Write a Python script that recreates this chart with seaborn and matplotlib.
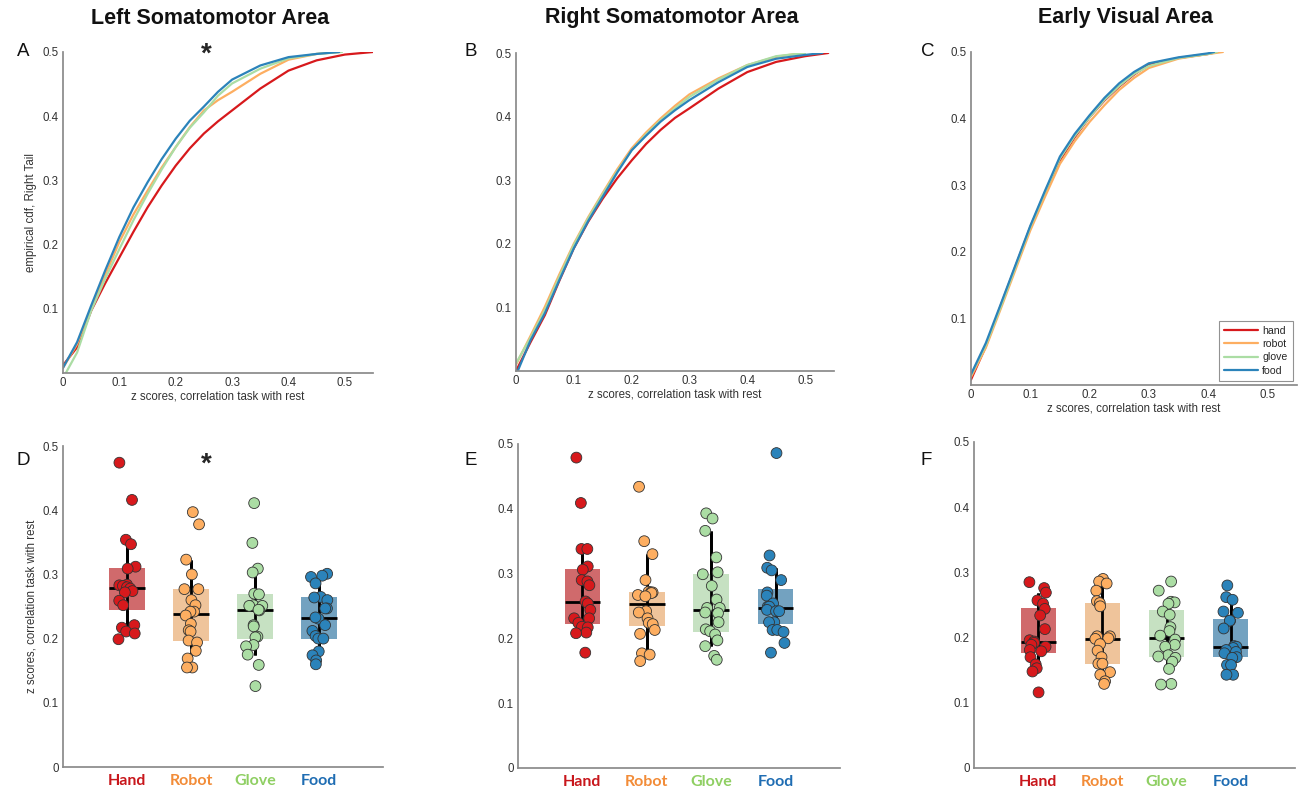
import numpy as np
import pandas as pd
import matplotlib
matplotlib.use("Agg")
import matplotlib.pyplot as plt
import seaborn as sns

# ---- condition names / colours ----
conds = ["hand", "robot", "glove", "food"]
cond_labels = ["Hand", "Robot", "Glove", "Food"]
line_colors = ["#d7191c", "#fdae61", "#abdda4", "#2b83ba"]
label_colors = ["#c8171c", "#f28c38", "#8fcf63", "#1f6db3"]

panel_titles = ["Left Somatomotor Area", "Right Somatomotor Area", "Early Visual Area"]

# ---- top row: empirical cdf (right tail) ----
xg = [0, .025, .05, .075, .1, .125, .15, .175, .2, .225, .25, .275, .3, .35, .4, .45]

left_hand_x = xg + [.5, .55]
left_hand_y = [.012, .040, .097, .140, .180, .220, .258, .292, .323, .350, .373, .392, .409, .443, .471, .487, .496, .5]
left_robot_x = xg + [.49]
left_robot_y = [.008, .045, .100, .153, .204, .247, .284, .320, .352, .383, .409, .425, .438, .466, .488, .497, .5]
left_glove_x = [.005] + xg[1:] + [.495]
left_glove_y = [.0, .032, .097, .147, .193, .238, .279, .317, .352, .382, .406, .432, .451, .474, .490, .497, .5]
left_food_x = xg + [.49]
left_food_y = [.008, .048, .105, .160, .212, .258, .297, .333, .365, .393, .415, .438, .457, .479, .492, .497, .5]

right_hand_x = xg + [.5, .54]
right_hand_y = [.0, .045, .088, .142, .193, .235, .271, .303, .331, .357, .379, .398, .413, .444, .470, .486, .495, .5]
right_robot_x = xg + [.495]
right_robot_y = [.010, .055, .101, .152, .200, .242, .280, .317, .350, .375, .397, .417, .435, .460, .481, .494, .5]
right_glove_x = xg + [.5]
right_glove_y = [.012, .052, .096, .148, .198, .240, .278, .314, .347, .372, .394, .413, .431, .458, .481, .495, .5]
right_food_x = [.003] + xg[1:] + [.5, .53]
right_food_y = [.0, .048, .091, .143, .193, .236, .274, .312, .347, .370, .392, .410, .426, .454, .478, .491, .497, .5]

vis_hand_x = xg[:-1] + [.415]
vis_hand_y = [.008, .058, .119, .178, .237, .288, .337, .372, .402, .427, .448, .466, .481, .491, .497, .5]
vis_robot_x = xg[:-1] + [.425]
vis_robot_y = [.012, .056, .114, .173, .232, .283, .332, .366, .395, .420, .443, .461, .476, .490, .497, .5]
vis_glove_x = xg[:-1] + [.415]
vis_glove_y = [.015, .060, .117, .177, .237, .290, .340, .374, .402, .428, .449, .467, .479, .491, .497, .5]
vis_food_x = xg[:-1] + [.41]
vis_food_y = [.016, .063, .121, .180, .239, .292, .343, .377, .405, .431, .453, .470, .483, .492, .498, .5]

# ---- bottom row: per-subject z scores ----
left_hand = [0.474, 0.416, 0.354, 0.347, 0.312, 0.309, 0.284, 0.283, 0.282, 0.280, 0.278, 0.274,
             0.272, 0.259, 0.252, 0.221, 0.217, 0.211, 0.208, 0.199]
left_robot = [0.397, 0.378, 0.323, 0.300, 0.277, 0.277, 0.260, 0.252, 0.242, 0.242, 0.236, 0.223,
              0.213, 0.211, 0.197, 0.194, 0.181, 0.169, 0.155, 0.155]
left_glove = [0.411, 0.349, 0.309, 0.303, 0.270, 0.269, 0.252, 0.251, 0.251, 0.244, 0.221, 0.219,
              0.203, 0.202, 0.190, 0.188, 0.175, 0.159, 0.126, 0.245]
left_food = [0.301, 0.298, 0.296, 0.286, 0.265, 0.264, 0.260, 0.247, 0.247, 0.231, 0.221, 0.212,
             0.204, 0.200, 0.200, 0.180, 0.174, 0.166, 0.160, 0.233]

right_hand = [0.479, 0.409, 0.338, 0.338, 0.311, 0.306, 0.290, 0.288, 0.282, 0.257, 0.254, 0.244,
              0.231, 0.231, 0.224, 0.218, 0.217, 0.209, 0.208, 0.178]
right_robot = [0.434, 0.350, 0.330, 0.290, 0.272, 0.271, 0.271, 0.270, 0.267, 0.265, 0.242, 0.240,
               0.231, 0.224, 0.222, 0.213, 0.207, 0.177, 0.175, 0.165]
right_glove = [0.393, 0.385, 0.366, 0.325, 0.302, 0.299, 0.281, 0.260, 0.247, 0.247, 0.240, 0.239,
               0.225, 0.214, 0.211, 0.206, 0.197, 0.188, 0.173, 0.167]
right_food = [0.486, 0.328, 0.309, 0.305, 0.290, 0.271, 0.266, 0.254, 0.249, 0.249, 0.244, 0.242,
              0.242, 0.225, 0.225, 0.213, 0.213, 0.210, 0.193, 0.178]

vis_hand = [0.285, 0.276, 0.269, 0.257, 0.252, 0.244, 0.234, 0.213, 0.196, 0.194, 0.192, 0.189,
            0.186, 0.181, 0.179, 0.170, 0.159, 0.153, 0.148, 0.116]
vis_robot = [0.290, 0.286, 0.283, 0.272, 0.256, 0.253, 0.248, 0.202, 0.202, 0.199, 0.198, 0.190,
             0.180, 0.170, 0.160, 0.160, 0.147, 0.143, 0.133, 0.129]
vis_glove = [0.286, 0.272, 0.255, 0.254, 0.252, 0.240, 0.235, 0.216, 0.210, 0.203, 0.197, 0.189,
             0.186, 0.173, 0.171, 0.169, 0.163, 0.152, 0.129, 0.128]
vis_food = [0.280, 0.262, 0.258, 0.240, 0.238, 0.226, 0.226, 0.214, 0.187, 0.186, 0.184, 0.181,
            0.178, 0.176, 0.170, 0.169, 0.158, 0.158, 0.143, 0.143]

cdf_panels = [
    [(left_hand_x, left_hand_y), (left_robot_x, left_robot_y), (left_glove_x, left_glove_y), (left_food_x, left_food_y)],
    [(right_hand_x, right_hand_y), (right_robot_x, right_robot_y), (right_glove_x, right_glove_y), (right_food_x, right_food_y)],
    [(vis_hand_x, vis_hand_y), (vis_robot_x, vis_robot_y), (vis_glove_x, vis_glove_y), (vis_food_x, vis_food_y)],
]
box_panels = [
    [left_hand, left_robot, left_glove, left_food],
    [right_hand, right_robot, right_glove, right_food],
    [vis_hand, vis_robot, vis_glove, vis_food],
]

sns.set_theme(style="white")
plt.rcParams["font.family"] = ["Liberation Sans", "DejaVu Sans"]
plt.rcParams["axes.edgecolor"] = "#8a8a8a"
plt.rcParams["xtick.color"] = "#8a8a8a"
plt.rcParams["ytick.color"] = "#8a8a8a"
plt.rcParams["xtick.labelcolor"] = "#333333"
plt.rcParams["ytick.labelcolor"] = "#333333"

W, H = 1304, 794
fig = plt.figure(figsize=(W / 100, H / 100), dpi=100)


def px_axes(l, t, r, b):
    return fig.add_axes([l / W, 1 - b / H, (r - l) / W, (b - t) / H])


top_boxes = [(63, 52, 373, 373), (516, 53, 834, 371), (971, 52, 1297, 385)]
bot_boxes = [(63, 446, 383, 767), (518, 444, 840, 768), (974, 442, 1295, 768)]
letters_top = ["A", "B", "C"]
letters_bot = ["D", "E", "F"]
letter_x = [17, 464, 921]
title_x = [210, 672, 1125]

np.random.seed(7)

for i in range(3):
    # ----- ECDF panel -----
    ax = px_axes(*top_boxes[i])
    rows = []
    for c, (xs, ys) in zip(conds, cdf_panels[i]):
        rows += [{"x": a, "y": b, "cond": c} for a, b in zip(xs, ys)]
    df = pd.DataFrame(rows)
    sns.lineplot(data=df, x="x", y="y", hue="cond", hue_order=conds, palette=line_colors,
                 sort=False, estimator=None, linewidth=1.6, ax=ax, legend=(i == 2))
    ax.set_xlim(0, 0.55)
    ax.set_ylim(0, 0.5)
    ax.set_xticks([0, .1, .2, .3, .4, .5])
    ax.set_xticklabels(["0", "0.1", "0.2", "0.3", "0.4", "0.5"])
    ax.set_yticks([.1, .2, .3, .4, .5])
    ax.set_yticklabels(["0.1", "0.2", "0.3", "0.4", "0.5"])
    ax.tick_params(direction="in", length=3, width=0.8, labelsize=8.3, pad=3)
    ax.set_xlabel("z scores, correlation task with rest", fontsize=8.3, color="#333333", labelpad=1)
    ax.set_ylabel("empirical cdf, Right Tail" if i == 0 else "", fontsize=8.3, color="#333333")
    sns.despine(ax=ax)
    if i == 2:
        leg = ax.legend(loc="lower right", fontsize=7.6, frameon=True, fancybox=False,
                        handlelength=3.2, borderpad=0.5, labelspacing=0.3, handletextpad=0.4,
                        borderaxespad=0.4)
        leg.get_frame().set_edgecolor("#777777")
        leg.get_frame().set_linewidth(0.8)
        for line in leg.get_lines():
            line.set_linewidth(1.6)

    fig.text(title_x[i] / W, 1 - 18 / H, panel_titles[i], ha="center", va="center",
             fontsize=15.5, fontweight="bold", color="#111111")
    fig.text(letter_x[i] / W, 1 - 52 / H, letters_top[i], ha="left", va="center",
             fontsize=13.5, color="#111111")

    # ----- box + points panel -----
    ax = px_axes(*bot_boxes[i])
    rows = []
    for c, vals in zip(cond_labels, box_panels[i]):
        rows += [{"cond": c, "z": v} for v in vals]
    bdf = pd.DataFrame(rows)
    sns.boxplot(data=bdf, x="cond", y="z", hue="cond", order=cond_labels, hue_order=cond_labels,
                palette=line_colors, width=0.55, whis=(10, 90), showfliers=False, showcaps=False,
                linecolor="black", linewidth=2, legend=False, ax=ax,
                medianprops=dict(color="black", linewidth=2),
                whiskerprops=dict(color="black", linewidth=2))
    for cont in ax.containers:
        for patch in cont.boxes:
            patch.set_alpha(0.72)
            patch.set_edgecolor("none")
            patch.set_zorder(1)
        w = cont.whiskers
        for lo, hi in zip(w[0::2], w[1::2]):
            xx = lo.get_xdata()[0]
            ax.plot([xx, xx], [lo.get_ydata()[1], hi.get_ydata()[1]], color="black",
                    linewidth=2, zorder=2, solid_capstyle="butt")
    sns.stripplot(data=bdf, x="cond", y="z", hue="cond", order=cond_labels, hue_order=cond_labels,
                  palette=line_colors, jitter=0.14, size=7.8, edgecolor="#333333", linewidth=0.6,
                  legend=False, ax=ax, zorder=4)
    ax.set_xlim(-1, 4)
    ax.set_ylim(0, 0.5)
    ax.set_yticks([0, .1, .2, .3, .4, .5])
    ax.set_yticklabels(["0", "0.1", "0.2", "0.3", "0.4", "0.5"])
    ax.set_xticks(range(4))
    ax.set_xticklabels(cond_labels, fontsize=11.5, fontweight="bold", family=["Lato", "DejaVu Sans"])
    for lab, col in zip(ax.get_xticklabels(), label_colors):
        lab.set_color(col)
    ax.tick_params(axis="y", direction="in", length=3, width=0.8, labelsize=8.3, pad=3)
    ax.tick_params(axis="x", direction="in", length=3, width=0.8, pad=5)
    ax.set_xlabel("")
    ax.set_ylabel("z scores, correlation task with rest" if i == 0 else "", fontsize=8.3,
                  color="#333333")
    sns.despine(ax=ax)
    fig.text(letter_x[i] / W, 1 - 460 / H, letters_bot[i], ha="left", va="center",
             fontsize=13.5, color="#111111")

# significance stars
fig.text(206 / W, 1 - 55 / H, "*", ha="center", va="center", fontsize=20, fontweight="bold")
fig.text(206 / W, 1 - 465 / H, "*", ha="center", va="center", fontsize=20, fontweight="bold")

fig.savefig("out.png", dpi=100)
